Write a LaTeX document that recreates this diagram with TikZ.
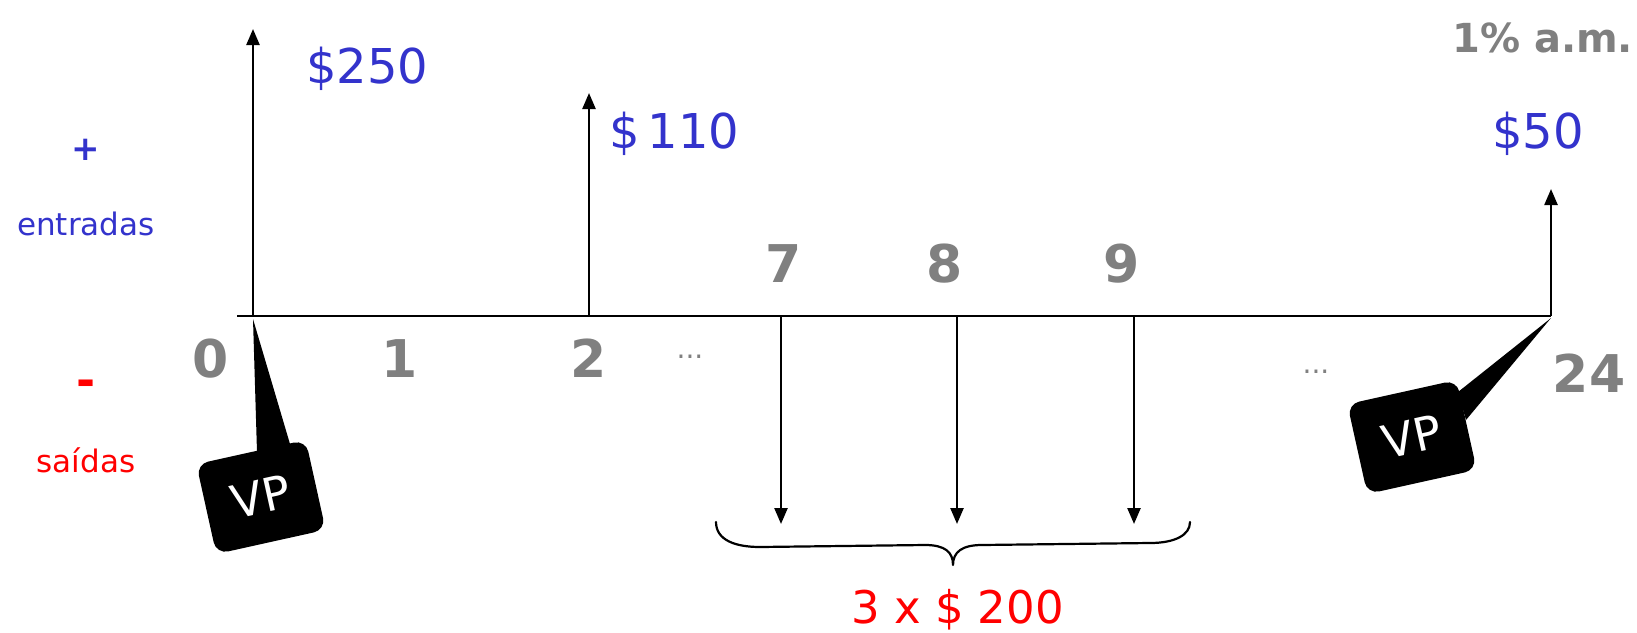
\documentclass[tikz,border=0pt]{standalone}
\usepackage{fontspec}
\setmainfont{DejaVu Sans}
\usetikzlibrary{arrows.meta,calc}
\definecolor{cfblue}{RGB}{51,51,204}
\definecolor{cfred}{RGB}{255,0,0}
\definecolor{cfgray}{RGB}{128,128,128}
\begin{document}
\begin{tikzpicture}[x=1pt,y=-1pt,
  flow/.style={line width=2.4pt,-{Triangle[length=16pt,width=13pt]}},
  axisline/.style={line width=2.6pt},
  bluelbl/.style={text=cfblue,font=\fontsize{48}{56}\selectfont,inner sep=0pt},
  redlbl/.style={text=cfred,font=\fontsize{45}{54}\selectfont,inner sep=0pt},
  ticklbl/.style={text=cfgray,font=\bfseries\fontsize{52}{60}\selectfont,inner sep=0pt,anchor=base},
  dotslbl/.style={text=cfgray,font=\fontsize{28}{32}\selectfont,inner sep=0pt,anchor=base},
  sidelbl/.style={font=\fontsize{31}{36}\selectfont,inner sep=0pt,anchor=base},
  vpbox/.style={fill=black,rounded corners=12pt,minimum width=112pt,minimum height=92pt,
    rotate=12.5,text=white,font=\fontsize{46}{50}\selectfont,inner sep=0pt},
  bracepath/.style={line width=2.2pt,line cap=round,line join=round},
]
\useasboundingbox (0,0) rectangle (1637,632);
\fill[white] (0,0) rectangle (1637,632);

% axis and period points
\coordinate (axL) at (237,316);
\coordinate (t0) at (253,316);
\coordinate (t2) at (589,316);
\coordinate (t7) at (781,316);
\coordinate (t8) at (957,316);
\coordinate (t9) at (1134,316);
\coordinate (t24) at (1551,316);
\draw[axisline] (axL) -- (t24);

% arrow ends
\coordinate (e0) at (253,29);
\coordinate (e2) at (589,93);
\coordinate (e24) at (1551,189);
\coordinate (d7) at (781,524);
\coordinate (d8) at (957,524);
\coordinate (d9) at (1134,524);

\draw[flow] (t0) -- (e0);
\draw[flow] (t2) -- (e2);
\draw[flow] (t24) -- (e24);
\draw[flow] (t7) -- (d7);
\draw[flow] (t8) -- (d8);
\draw[flow] (t9) -- (d9);

% amounts
\node[bluelbl,anchor=base west] (v250) at (306,83) {\$250};
\node[bluelbl,anchor=base west] (v110) at (609,148) {\$\,110};
\node[bluelbl,anchor=base west] (v50) at (1492,148) {\$50};
\node[text=cfgray,font=\bfseries\fontsize{40}{48}\selectfont,inner sep=0pt,anchor=base west] (rate) at (1452,52) {1\% a.m.};

% side labels
\node[text=cfblue,font=\bfseries\fontsize{34}{40}\selectfont,inner sep=0pt] (plus) at (86,150) {+};
\node[sidelbl,text=cfblue] (entr) at (86,235) {entradas};
\node[text=cfred,font=\bfseries\fontsize{46}{50}\selectfont,inner sep=0pt] (minus) at (86,388) {-};
\node[sidelbl,text=cfred] (said) at (86,472) {saídas};

% period labels
\node[ticklbl] (l0) at (211,377) {0};
\node[ticklbl] (l1) at (400,377) {1};
\node[ticklbl] (l2) at (589,377) {2};
\node[dotslbl] (dA) at (690,358) {...};
\node[ticklbl] (l7) at (784,282) {7};
\node[ticklbl] (l8) at (945,282) {8};
\node[ticklbl] (l9) at (1122,282) {9};
\node[dotslbl] (dB) at (1316,373) {...};
\node[ticklbl] (l24) at (1589,392) {24};

% brace
\draw[bracepath] (716,522) .. controls (716,540) and (735,547) .. (760,547)
  -- (925,545) .. controls (945,545) and (953,552) .. (953,565)
  .. controls (953,552) and (962,545) .. (982,545)
  -- (1150,543) .. controls (1175,543) and (1190,535) .. (1190,522);
\node[redlbl,anchor=base west] (tot) at (851,623) {3 x \$ 200};

% VP callouts
\node[vpbox] (vpL) at (261,497) {VP};
\node[vpbox] (vpR) at (1412,437) {VP};
\fill[black] ($(t0)+(0,3)$) -- (257,452) -- (290,444) -- cycle;
\fill[black] ($(t24)+(0,2)$) -- (1458,392) -- (1466,420) -- cycle;
\end{tikzpicture}
\end{document}
